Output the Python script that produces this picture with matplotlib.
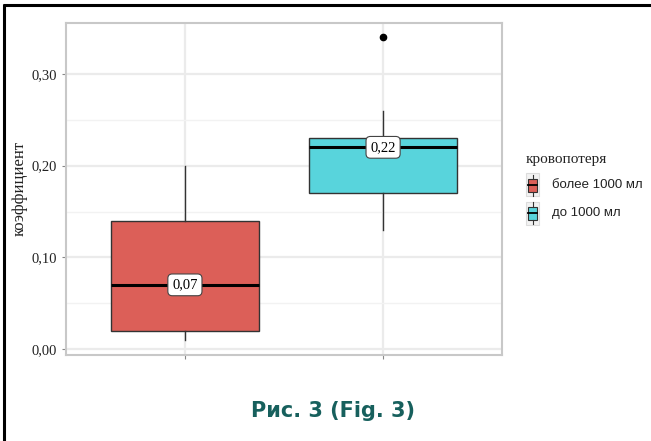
import matplotlib
matplotlib.use("Agg")
import matplotlib.pyplot as plt
from matplotlib.patches import Rectangle
from matplotlib.lines import Line2D

# ---- data ----
categories = ["более 1000 мл", "до 1000 мл"]
medians = [0.07, 0.22]
q1 = [0.02, 0.17]
q3 = [0.14, 0.23]
whisk_lo = [0.01, 0.13]
whisk_hi = [0.20, 0.26]
outliers = [[], [0.34]]
median_labels = ["0,07", "0,22"]
yticks = [0.0, 0.1, 0.2, 0.3]
ytick_labels = ["0,00", "0,10", "0,20", "0,30"]
colors = ["#dc5f58", "#58d4dc"]

W, H = 651, 441
fig = plt.figure(figsize=(W / 100, H / 100), dpi=100)
fig.patch.set_facecolor("white")


def fx(px):
    return px / W


def fy(py):
    return 1 - py / H


# outer black frame (left and top)
fig.add_artist(Line2D([fx(4), fx(4)], [0, fy(4)], transform=fig.transFigure,
                      color="black", lw=2.2, solid_capstyle="butt"))
fig.add_artist(Line2D([fx(3), 1], [fy(5), fy(5)], transform=fig.transFigure,
                      color="black", lw=2.2, solid_capstyle="butt"))

left, right, top, bottom = 66, 502, 23, 355
ax = fig.add_axes([fx(left), fy(bottom), (right - left) / W, (bottom - top) / H])
ax.set_facecolor("white")

stats = []
for i in range(len(categories)):
    stats.append(dict(med=medians[i], q1=q1[i], q3=q3[i],
                      whislo=whisk_lo[i], whishi=whisk_hi[i], fliers=outliers[i]))
positions = list(range(1, len(categories) + 1))
bp = ax.bxp(stats, positions=positions, widths=0.75, patch_artist=True,
            showcaps=False, zorder=3,
            boxprops=dict(edgecolor="#333333", linewidth=1.0),
            medianprops=dict(color="black", linewidth=2.2),
            whiskerprops=dict(color="#333333", linewidth=1.0),
            flierprops=dict(marker="o", markerfacecolor="black", markeredgecolor="black",
                            markersize=4.5))
for patch, c in zip(bp["boxes"], colors):
    patch.set_facecolor(c)

for x, m, lab in zip(positions, medians, median_labels):
    ax.text(x, m, lab, ha="center", va="center", fontsize=10.5,
            family="Liberation Serif", zorder=5,
            bbox=dict(boxstyle="round,pad=0.3,rounding_size=0.3", facecolor="white",
                      edgecolor="#444444", linewidth=0.8))

ax.set_xlim(0.4, 2.6)
ax.set_ylim(-0.0065, 0.3556)
ax.set_xticks(positions)
ax.set_xticklabels([])
ax.set_yticks(yticks)
ax.set_yticklabels(ytick_labels, family="Liberation Serif", fontsize=10.5, color="#222222")
ax.set_yticks([0.05, 0.15, 0.25], minor=True)
ax.tick_params(axis="both", which="major", length=3, color="#888888", width=0.8)
ax.tick_params(axis="y", which="minor", length=0)
ax.grid(True, which="major", color="#ebebeb", linewidth=1.6, zorder=0)
ax.grid(True, which="minor", axis="y", color="#f2f2f2", linewidth=1.0, zorder=0)
ax.set_axisbelow(True)
for s in ax.spines.values():
    s.set_color("#c8c8c8")
    s.set_linewidth(1.5)

fig.text(fx(20), fy(188), "коэффициент", rotation=90, ha="center", va="center",
         family="Liberation Serif", fontsize=12, color="#222222")

# ---- legend (drawn in figure pixel space) ----
fig.text(fx(526), fy(160), "кровопотеря", ha="left", va="center",
         family="Liberation Serif", fontsize=11, color="#222222")
key_w, key_h = 13, 23
for i, (lab, c) in enumerate(zip(categories, colors)):
    cy = 185 + 28 * i
    kx = 526
    fig.add_artist(Rectangle((fx(kx), fy(cy + key_h / 2)), key_w / W, key_h / H,
                             transform=fig.transFigure, facecolor="#f2f2f2",
                             edgecolor="#dcdcdc", linewidth=0.8))
    bw, bh = 9, 13
    bx = kx + (key_w - bw) / 2
    fig.add_artist(Rectangle((fx(bx), fy(cy + bh / 2)), bw / W, bh / H,
                             transform=fig.transFigure, facecolor=c,
                             edgecolor="#333333", linewidth=0.8))
    fig.add_artist(Line2D([fx(bx), fx(bx + bw)], [fy(cy), fy(cy)],
                          transform=fig.transFigure, color="black", lw=1.3))
    cx = kx + key_w / 2
    fig.add_artist(Line2D([fx(cx), fx(cx)], [fy(cy - key_h / 2 + 1), fy(cy - bh / 2)],
                          transform=fig.transFigure, color="#333333", lw=0.8))
    fig.add_artist(Line2D([fx(cx), fx(cx)], [fy(cy + bh / 2), fy(cy + key_h / 2 - 1)],
                          transform=fig.transFigure, color="#333333", lw=0.8))
    fig.text(fx(552), fy(cy), lab, ha="left", va="center",
             family="Liberation Sans", fontsize=9.5, color="#222222")

fig.text(fx(333), fy(411), "Рис. 3 (Fig. 3)", ha="center", va="center",
         family="DejaVu Sans", fontweight="bold", fontsize=15, color="#17605d")

fig.savefig("out.png", dpi=100, facecolor="white")
